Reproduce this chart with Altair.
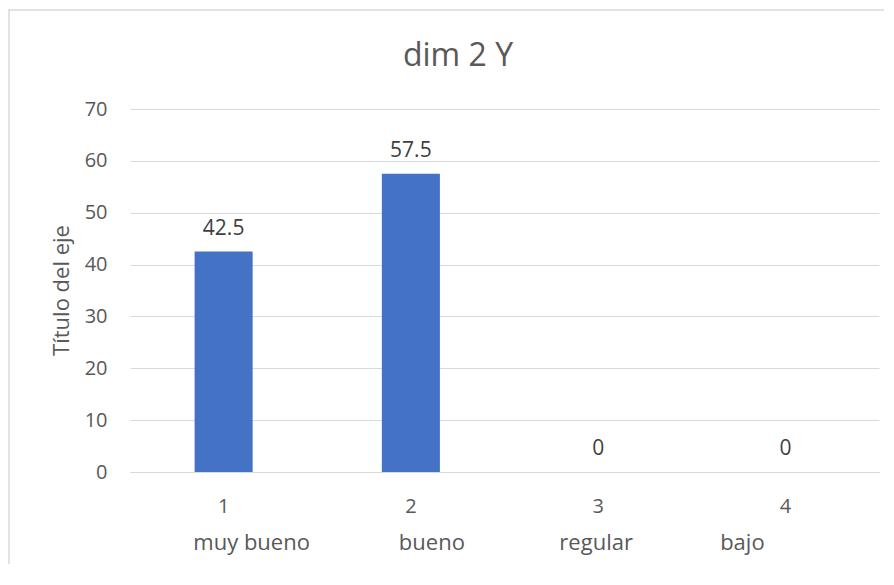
import altair as alt
import pandas as pd

categories = ["1", "2", "3", "4"]
values = [42.5, 57.5, 0, 0]
level2 = ["muy bueno", "bueno", "regular", "bajo"]
y_ticks = [0, 10, 20, 30, 40, 50, 60, 70]
title_text = "dim 2 Y"
y_title = "Título del eje"

# horizontal nudges of the second label row (styling, as in the source)
level2_dx = [28, 21, -2, -43]

FONT = "Open Sans"
GRAY = "#595959"
DARK = "#404040"
GRID = "#d9d9d9"

df = pd.DataFrame({"cat": categories, "val": values, "lab2": level2})
base = alt.Chart(df)

x = alt.X(
    "cat:N",
    sort=categories,
    scale=alt.Scale(paddingInner=0.69, paddingOuter=0.345),
    axis=alt.Axis(
        title=None, labelAngle=0, labelFontSize=20, labelColor=GRAY, labelFont=FONT,
        labelPadding=24, ticks=False, tickSize=0, domain=True, domainColor=GRID,
        domainWidth=1.2, grid=False, labelFontWeight="normal",
    ),
)
y = alt.Y(
    "val:Q",
    scale=alt.Scale(domain=[0, 70], nice=False),
    axis=alt.Axis(
        values=y_ticks, title=y_title, labelFontSize=20, labelColor=GRAY, labelFont=FONT,
        labelPadding=23, ticks=False, tickSize=0, domain=False, grid=True,
        gridColor=GRID, gridWidth=1.2, titleFont=FONT, titleFontSize=22,
        titleColor=GRAY, titleFontWeight="normal", titleAngle=270,
        titleX=-62, titleY=181, titleBaseline="alphabetic", titleAlign="center",
    ),
)

bars = base.mark_bar(color="#4472C4").encode(x=x, y=y)
labels = base.mark_text(
    baseline="alphabetic", dy=-17, fontSize=21, font=FONT, color=DARK
).encode(x=x, y=y, text=alt.Text("val:Q", format="~g"))

row2 = []
for i, cat in enumerate(categories):
    row2.append(
        base.transform_filter(alt.datum.cat == cat)
        .mark_text(baseline="alphabetic", align="center", fontSize=22, font=FONT,
                   color=GRAY, dx=level2_dx[i])
        .encode(x=x, y=alt.value(441), text="lab2:N")
    )

title_df = pd.DataFrame({"t": [title_text]})
title = alt.Chart(title_df).mark_text(
    baseline="alphabetic", align="center", fontSize=32, font=FONT, color=GRAY
).encode(x=alt.value(328), y=alt.value(-43), text="t:N")

border = alt.Chart(title_df).mark_rect(
    fillOpacity=0, stroke=GRID, strokeWidth=1.5
).encode(x=alt.value(-121), x2=alt.value(900), y=alt.value(-99), y2=alt.value(700))

chart = alt.layer(border, bars, labels, *row2, title).properties(
    width=749,
    height=363,
    padding={"left": 122, "top": 101, "right": 5, "bottom": 92},
    autosize=alt.AutoSizeParams(type="none"),
    background="white",
).configure_view(stroke=None)

chart.save("out.html", embed_options={"renderer": "svg", "actions": False})
